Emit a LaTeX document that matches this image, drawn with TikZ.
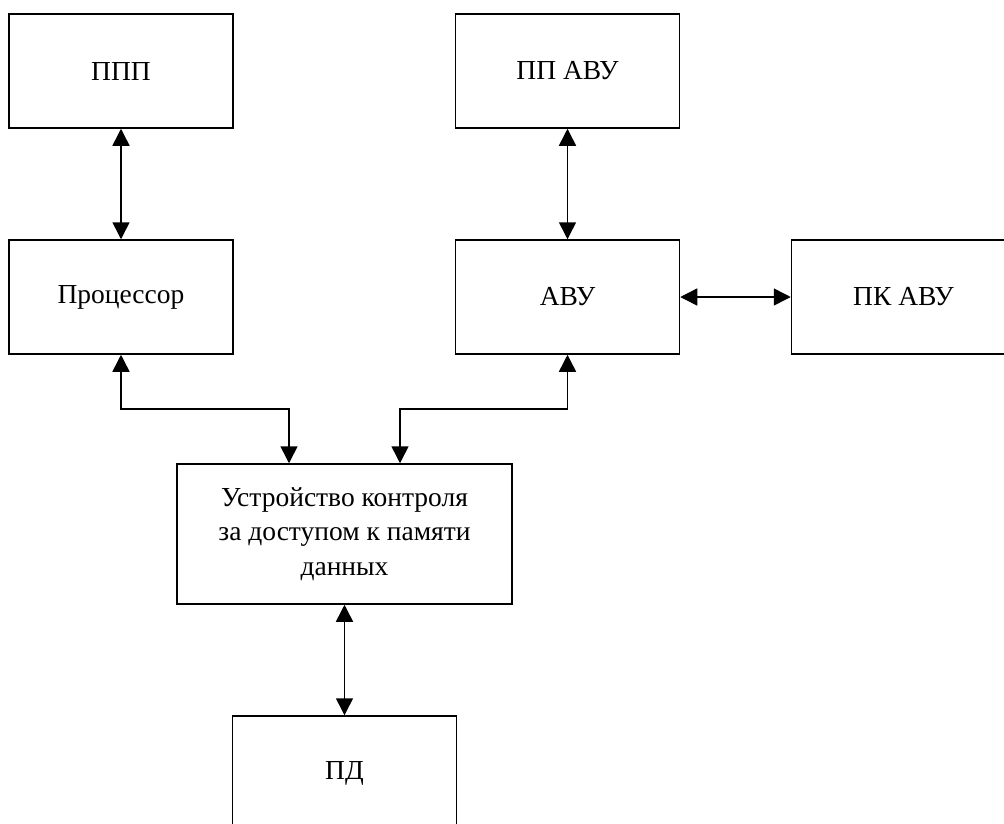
\documentclass[tikz,border=0pt]{standalone}
\usepackage{fontspec}
\setmainfont{Liberation Serif}
\usetikzlibrary{arrows.meta}
\begin{document}
\begin{tikzpicture}[x=1pt,y=-1pt,
  block/.style={draw, line width=1.5pt, rectangle, inner sep=0pt,
    minimum width=224pt, minimum height=114pt,
    font=\fontsize{27.5}{34.5}\selectfont, align=center},
  link/.style={line width=1.5pt,
    {Triangle[length=17pt,width=17pt]}-{Triangle[length=17pt,width=17pt]}}]
\clip (0,0) rectangle (1004,823);
\fill[white] (0,0) rectangle (1004,823);

% blocks
\node[block] (ppp)  at (121,71)    {ППП};
\node[block] (proc) at (121,297)   {Процессор};
\node[block] (ppavu) at (567.5,71) {ПП АВУ};
\node[block] (avu)  at (567.5,297) {АВУ};
\node[block] (pkavu) at (903.5,297) {ПК АВУ};
\node[block, minimum width=335pt, minimum height=140pt] (udp) at (344.5,534)
  {Устройство контроля\\за доступом к памяти\\данных};
\node[block] (pd) at (344.5,773) {ПД};

% connections
\draw[link] (ppp) -- (proc);
\draw[link] (ppavu) -- (avu);
\draw[link] (avu) -- (pkavu);
\draw[link] (udp) -- (pd);
\draw[link] (proc.south) -- ++(0,54) -| ([xshift=-55.5pt]udp.north);
\draw[link] (avu.south) -- ++(0,54) -| ([xshift=55.5pt]udp.north);
\end{tikzpicture}
\end{document}
